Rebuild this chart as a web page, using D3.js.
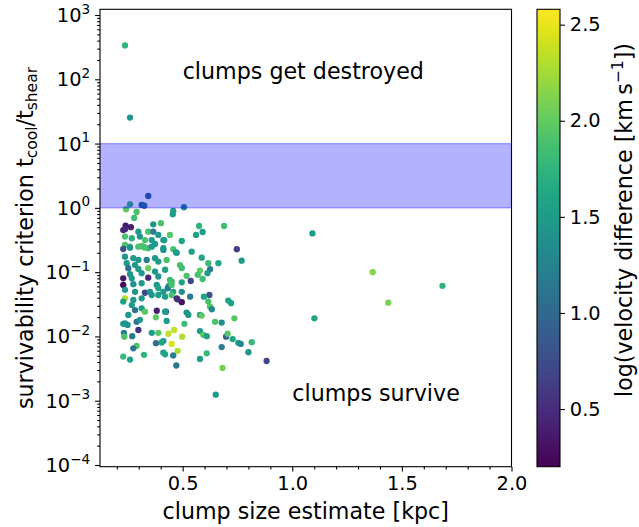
<!DOCTYPE html>
<html><head><meta charset="utf-8">
<script src="https://cdn.jsdelivr.net/npm/d3@7"></script>
<style>body{margin:0;background:#fff} text{font-family:"DejaVu Sans",sans-serif;fill:#000}</style>
</head><body><svg id="c" width="639" height="527"></svg>
<script>
const sizeKpc = [
0.237,0.260,0.343,1.092,1.367,1.685,1.438,1.101,0.260,0.242,
0.313,0.325,0.506,0.290,0.457,0.455,0.279,0.401,0.366,0.575,
0.689,0.240,0.264,0.237,0.591,0.561,0.442,0.496,0.412,0.747,
0.769,0.541,0.473,0.587,0.617,0.663,0.488,0.496,0.579,0.625,
0.613,0.518,0.591,0.569,0.496,0.537,0.450,0.437,0.622,0.534,
0.597,0.496,0.476,0.708,0.721,0.617,0.625,0.633,0.424,0.382,
0.378,0.518,0.526,0.579,0.587,0.648,0.678,0.736,0.508,0.232,
0.270,0.234,0.359,0.389,0.435,0.461,0.498,0.579,0.594,0.610,
0.698,0.705,0.728,0.754,0.765,0.815,0.412,0.404,0.378,0.450,
0.477,0.290,0.275,0.324,0.229,0.260,0.412,0.420,0.457,0.610,
0.678,0.800,0.579,0.883,0.471,0.682,0.651,0.249,0.290,0.298,
0.229,0.229,0.298,0.343,0.366,0.389,0.237,0.268,0.305,0.328,
0.359,0.416,0.237,0.260,0.313,0.321,0.343,0.374,0.412,0.457,
0.229,0.260,0.298,0.328,0.359,0.412,0.470,0.237,0.275,0.298,
0.336,0.374,0.389,0.427,0.245,0.283,0.252,0.298,0.343,0.313,
0.260,0.374,0.420,0.229,0.268,0.343,0.389,0.442,0.229,0.275,
0.313,0.382,0.389,0.432,0.450,0.237,0.283,0.328,0.351,0.412,
0.457,0.496,0.237,0.229,0.275,0.313,0.359,0.389,0.420,0.450,
0.473,0.268,0.313,0.283,0.252,0.328,0.420,0.305,0.427,0.237];
const survivability = [
336,25.4,1.53,0.40,0.100,0.0612,0.0335,0.0191,1.134,0.951,
1.11,1.079,1.023,0.862,0.895,0.797,0.697,0.577,0.555,0.522,
0.522,0.528,0.50,0.466,0.421,0.379,0.379,0.305,0.315,0.227,
0.151,0.208,0.200,0.168,0.138,0.138,0.129,0.116,0.1057,0.111,
0.0964,0.0877,0.0783,0.0908,0.0695,0.0728,0.071,0.0611,0.0441,0.0415,
0.0415,0.0341,0.0379,0.0361,0.0329,0.0348,0.029,0.0265,0.0243,0.0251,
0.0198,0.0235,0.0216,0.0216,0.0211,0.0169,0.0164,0.0191,0.0157,0.0114,
0.0101,0.0099,0.0114,0.0114,0.011,0.0126,0.0099,0.0121,0.0106,0.0101,
0.0099,0.011,0.0091,0.00795,0.00764,0.00815,0.00846,0.00805,0.00785,0.00764,
0.00598,0.00713,0.00652,0.00517,0.00486,0.00436,0.00557,0.00527,0.00507,0.00547,
0.00683,0.00567,0.00446,0.00415,0.00353,0.00323,0.00124,0.0151,0.0169,0.0126,
0.0157,0.452,0.426,0.426,0.426,0.379,0.357,0.337,0.357,0.315,
0.315,0.315,0.265,0.249,0.255,0.249,0.236,0.274,0.236,0.227,
0.229,0.240,0.249,0.240,0.249,0.222,0.203,0.174,0.165,0.155,
0.155,0.165,0.146,0.155,0.138,0.129,0.115,0.112,0.115,0.0964,
0.0931,0.102,0.109,0.0802,0.0802,0.0819,0.0855,0.0755,0.0633,0.0649,
0.0672,0.0633,0.0563,0.0563,0.0633,0.0531,0.0495,0.0478,0.0495,0.0495,
0.0495,0.0495,0.0392,0.0348,0.0369,0.0392,0.0441,0.0441,0.0415,0.0441,
0.0392,0.0308,0.0274,0.0257,0.0216,0.0243,0.0243,0.0181,0.0174,0.016];
const logVelocity = [
1.75,1.45,1.05,1.5,2.15,1.75,2.1,1.6,1.8,2.0,
1.1,1.15,1.3,1.9,1.55,1.5,1.85,1.9,1.45,1.75,
1.85,0.35,0.4,0.5,1.5,1.55,1.95,1.6,1.45,0.65,
1.5,1.55,1.55,1.6,1.8,1.6,1.9,1.85,2.0,1.2,
1.5,1.9,1.85,1.9,1.55,0.7,1.85,1.55,0.8,1.15,
1.55,0.3,0.5,1.6,1.55,1.9,1.95,1.3,0.75,0.4,
2.0,1.4,1.45,1.55,2.0,1.9,1.35,1.95,1.85,1.2,
1.15,1.9,1.5,1.95,2.35,2.35,2.3,1.5,1.95,1.55,
0.9,1.95,1.6,1.5,1.3,1.8,1.5,1.6,1.1,2.45,
2.3,1.95,1.15,1.75,1.8,1.55,1.55,1.6,1.2,1.8,
1.2,1.45,1.5,0.7,1.15,2.1,1.5,1.45,1.15,0.55,
1.5,0.45,1.5,1.9,1.2,1.5,1.9,1.7,1.45,1.9,
1.5,1.5,1.9,1.85,1.95,1.9,1.85,1.5,1.45,1.9,
0.8,1.45,1.9,1.9,1.5,1.45,1.5,1.45,1.5,1.45,
1.2,1.45,1.5,1.9,1.5,1.5,1.1,1.5,2.05,1.5,
1.45,1.45,1.55,0.35,1.5,0.45,1.45,1.85,0.25,1.45,
1.5,1.45,1.55,1.15,1.9,1.5,1.45,0.7,1.45,1.5,
1.55,1.4,2.3,1.55,1.5,1.45,1.45,1.5,1.55,1.9,
0.5,1.5,1.5,1.1,1.5,1.95,1.5,1.45,1.5,1.45];

const xTicks = [0.5, 1.0, 1.5, 2.0];
const yTickExponents = [3, 2, 1, 0, -1, -2, -3, -4];
const colorTicks = [0.5, 1.0, 1.5, 2.0, 2.5];
const xDomain = [0.123, 2.0];
const yDomain = [9.41e-5, 1227];
const colorDomain = [0.2, 2.58];
const bandRange = [1, 10];
const notes = [
  {text: "clumps get destroyed", x: 0.5, y: 100},
  {text: "clumps survive", x: 1.0, y: 1e-3}
];

const svg = d3.select("#c");
svg.append("rect").attr("width", 639).attr("height", 527).attr("fill", "#fff");
const L = 100, R = 511.5, T = 9.3, B = 466.7;
const x = d3.scaleLinear().domain(xDomain).range([L, R]);
const y = d3.scaleLog().domain(yDomain).range([B, T]);
const color = d3.scaleSequential(d3.interpolateViridis).domain(colorDomain);
const TICK = 19.4, LAB = 22.2;

const plot = svg.append("g");
plot.append("clipPath").attr("id", "clip").append("rect")
  .attr("x", L).attr("y", T).attr("width", R - L).attr("height", B - T);
const inner = plot.append("g").attr("clip-path", "url(#clip)");
inner.selectAll("circle").data(sizeKpc.map((d, i) => ({x: d, y: survivability[i], c: logVelocity[i]})))
  .enter().append("circle")
  .attr("cx", d => x(d.x)).attr("cy", d => y(d.y)).attr("r", 3.15)
  .attr("fill", d => color(d.c));
inner.append("rect")
  .attr("x", L - 2).attr("width", R - L + 4)
  .attr("y", y(bandRange[1])).attr("height", y(bandRange[0]) - y(bandRange[1]))
  .attr("fill", "rgb(0,0,255)").attr("fill-opacity", 0.3)
  .attr("stroke", "rgb(0,0,255)").attr("stroke-opacity", 0.3).attr("stroke-width", 1.4);

notes.forEach(n => {
  svg.append("text").attr("x", x(n.x)).attr("y", y(n.y))
    .attr("font-size", LAB).text(n.text);
});

// axes
const xAxis = d3.axisBottom(x).tickValues(xTicks).tickSize(4.9).tickPadding(4.9)
  .tickFormat(d3.format(".1f"));
const xMinor = d3.range(2, 20).map(v => v / 10).filter(v => v >= xDomain[0] && !xTicks.some(t => Math.abs(t - v) < 1e-9));
const gx = svg.append("g").attr("transform", `translate(0,${B})`).call(xAxis);
gx.append("g").call(d3.axisBottom(x).tickValues(xMinor).tickSize(2.8).tickFormat(""));
const yMajor = yTickExponents.map(e => Math.pow(10, e));
const yMinor = [];
for (let e = -5; e < 4; e++) for (let k = 2; k <= 9; k++) {
  const v = k * Math.pow(10, e);
  if (v >= yDomain[0] && v <= yDomain[1]) yMinor.push(v);
}
const gy = svg.append("g").attr("transform", `translate(${L},0)`)
  .call(d3.axisLeft(y).tickValues(yMajor).tickSize(4.9).tickFormat(""));
gy.append("g").call(d3.axisLeft(y).tickValues(yMinor).tickSize(2.8).tickFormat(""));
[gx, gy].forEach(g => {
  g.selectAll(".domain").remove();
  g.selectAll("line").attr("stroke", "#000").attr("stroke-width", 1.1);
  g.selectAll("text").attr("font-size", TICK).attr("font-family", "DejaVu Sans").attr("fill", "#000");
});
gx.selectAll(".tick text").attr("dy", "0.71em");
yTickExponents.forEach(e => {
  const t = svg.append("text").attr("x", L - 9.8).attr("y", y(Math.pow(10, e)) + 7)
    .attr("text-anchor", "end").attr("font-size", TICK);
  t.append("tspan").text("10");
  t.append("tspan").attr("dy", -8.5).attr("font-size", TICK * 0.7)
    .text(e < 0 ? "\u2212" + Math.abs(e) : String(e));
});
svg.append("rect").attr("x", L).attr("y", T).attr("width", R - L).attr("height", B - T)
  .attr("fill", "none").attr("stroke", "#000").attr("stroke-width", 1.1);

// labels
svg.append("text").attr("x", (L + R) / 2).attr("y", 519).attr("text-anchor", "middle")
  .attr("font-size", LAB).text("clump size estimate [kpc]");
const yl = svg.append("text").attr("transform", `translate(33,${(T + B) / 2}) rotate(-90)`)
  .attr("text-anchor", "middle").attr("font-size", LAB);
yl.append("tspan").text("survivability criterion t");
yl.append("tspan").attr("font-size", LAB * 0.7).attr("dy", 4).text("cool");
yl.append("tspan").attr("dy", -4).text("/t");
yl.append("tspan").attr("font-size", LAB * 0.7).attr("dy", 4).text("shear");

// colorbar
const CL = 537, CR = 560;
const cy = d3.scaleLinear().domain(colorDomain).range([B, T]);
const grad = svg.append("defs").append("linearGradient").attr("id", "vir")
  .attr("x1", 0).attr("y1", 1).attr("x2", 0).attr("y2", 0);
d3.range(0, 1.0001, 0.05).forEach(t => grad.append("stop").attr("offset", t)
  .attr("stop-color", d3.interpolateViridis(t)));
svg.append("rect").attr("x", CL).attr("y", T).attr("width", CR - CL).attr("height", B - T)
  .attr("fill", "url(#vir)").attr("stroke", "#000").attr("stroke-width", 1.1);
const gc = svg.append("g").attr("transform", `translate(${CR},0)`)
  .call(d3.axisRight(cy).tickValues(colorTicks).tickSize(4.9).tickPadding(4.9).tickFormat(d3.format(".1f")));
gc.selectAll(".domain").remove();
gc.selectAll("line").attr("stroke", "#000").attr("stroke-width", 1.1);
gc.selectAll("text").attr("font-size", TICK).attr("font-family", "DejaVu Sans").attr("fill", "#000");
const cl = svg.append("text").attr("transform", `translate(632,${(T + B) / 2 - 18}) rotate(-90)`)
  .attr("text-anchor", "middle").attr("font-size", LAB);
cl.append("tspan").text("log(velocity difference [km\u2009s");
cl.append("tspan").attr("font-size", LAB * 0.7).attr("dy", -9).text("\u22121");
cl.append("tspan").attr("dy", 9).text("])");
</script></body></html>
